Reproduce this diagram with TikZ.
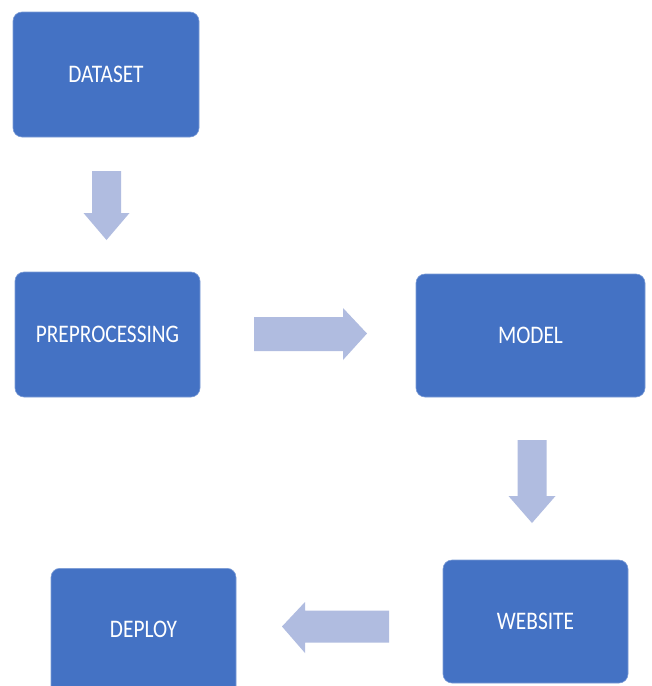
\documentclass[tikz,border=0pt]{standalone}
\usepackage{fontspec}
\setmainfont{Carlito}
\definecolor{boxblue}{HTML}{4472C4}
\definecolor{arrowblue}{HTML}{B0BCE0}
\newcommand\boxtext[1]{\scalebox{0.97}[1.15]{#1}}
\begin{document}
\begin{tikzpicture}[x=1pt,y=-1pt,
  box/.style={rectangle, rounded corners=9pt, fill=boxblue, draw=boxblue!70!white, line width=0.6pt,
    inner sep=0pt, text=white, font=\fontsize{22}{26}\selectfont},
  blockarrow/.style={fill=arrowblue, draw=none}]
\useasboundingbox (0,0) rectangle (652,686);
\clip (0,0) rectangle (652,686);
\fill[white] (0,0) rectangle (652,686);

\node[box, minimum width=186, minimum height=125] (dataset) at (106,74.5) {\boxtext{DATASET}};
\node[box, minimum width=185, minimum height=125] (prep) at (107.5,334.5) {\boxtext{PREPROCESSING}};
\node[box, minimum width=229, minimum height=123] (model) at (530.5,335.5) {\boxtext{MODEL}};
\node[box, minimum width=185, minimum height=123] (website) at (535.5,621.5) {\boxtext{WEBSITE}};
\node[box, minimum width=185, minimum height=140, anchor=north] (deploy) at (143.5,568) {\raisebox{19pt}{\boxtext{DEPLOY}}};

% block arrows
\coordinate (a1) at (106.5,171);
\coordinate (a2) at (254,333.5);
\coordinate (a3) at (532,440);
\coordinate (a4) at (389,626.5);

\fill[blockarrow] (a1) ++(-14.5,0) -- ++(29,0) -- ++(0,42) -- ++(8.5,0) -- ++(-23,27) -- ++(-23,-27) -- ++(8.5,0) -- cycle;
\fill[blockarrow] (a2) ++(0,-16.5) -- ++(89,0) -- ++(0,-9) -- ++(24,25.5) -- ++(-24,26.5) -- ++(0,-9) -- ++(-89,0) -- cycle;
\fill[blockarrow] (a3) ++(-14.5,0) -- ++(29,0) -- ++(0,56) -- ++(9,0) -- ++(-23.5,27) -- ++(-23.5,-27) -- ++(9,0) -- cycle;
\fill[blockarrow] (a4) ++(0,-16) -- ++(-84,0) -- ++(0,-8.5) -- ++(-23,24.5) -- ++(23,26.5) -- ++(0,-10.5) -- ++(84,0) -- cycle;
\end{tikzpicture}
\end{document}
